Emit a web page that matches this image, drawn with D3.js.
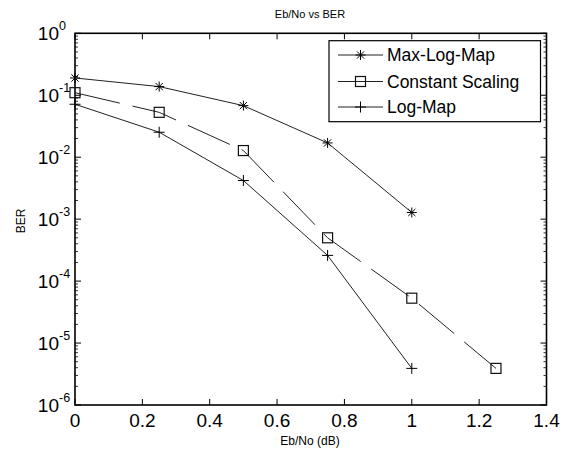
<!DOCTYPE html>
<html>
<head>
<meta charset="utf-8">
<script src="https://cdn.jsdelivr.net/npm/d3@7/dist/d3.min.js"></script>
<style>
  body { margin: 0; background: #fff; }
  svg { display: block; font-family: Arial, "Liberation Sans", sans-serif; }
</style>
</head>
<body>
<svg id="chart" width="563" height="452"></svg>
<script>
const xMaxLog = [0, 0.25, 0.5, 0.75, 1];
const yMaxLog = [0.19, 0.138, 0.068, 0.017, 0.00128];
const xConst = [0, 0.25, 0.5, 0.75, 1, 1.25];
const yConst = [0.11, 0.053, 0.0128, 5e-4, 5.3e-5, 3.9e-6];
const xLogMap = [0, 0.25, 0.5, 0.75, 1];
const yLogMap = [0.0716, 0.0253, 0.0042, 2.6e-4, 3.9e-6];
const xTicks = [0, 0.2, 0.4, 0.6, 0.8, 1, 1.2, 1.4];
const xTickLabels = ["0", "0.2", "0.4", "0.6", "0.8", "1", "1.2", "1.4"];
const yExponents = [0, -1, -2, -3, -4, -5, -6];
const seriesNames = ["Max-Log-Map", "Constant Scaling", "Log-Map"];
const titleText = "Eb/No vs BER";
const xLabelText = "Eb/No (dB)";
const yLabelText = "BER";

const svg = d3.select("#chart");
const L = 75, R = 546.5, T = 33.3, B = 405;
const x = d3.scaleLinear().domain([0, 1.4]).range([L, R]);
const y = d3.scaleLog().domain([1e-6, 1]).range([B, T]);

// minor ticks
const minor = [];
for (let e = -6; e < 0; e++) for (let m = 2; m <= 9; m++) minor.push(m * Math.pow(10, e));
const g = svg.append("g");
minor.forEach(v => {
  g.append("line").attr("x1", L).attr("x2", L + 3).attr("y1", y(v)).attr("y2", y(v)).attr("stroke", "#000").attr("stroke-width", 0.8);
  g.append("line").attr("x1", R).attr("x2", R - 3).attr("y1", y(v)).attr("y2", y(v)).attr("stroke", "#000").attr("stroke-width", 0.8);
});
yExponents.forEach(e => {
  const v = Math.pow(10, e);
  g.append("line").attr("x1", L).attr("x2", L + 6).attr("y1", y(v)).attr("y2", y(v)).attr("stroke", "#000");
  g.append("line").attr("x1", R).attr("x2", R - 6).attr("y1", y(v)).attr("y2", y(v)).attr("stroke", "#000");
  g.append("text").attr("x", 59).attr("y", y(v) + 7).attr("text-anchor", "end").attr("font-size", 19).attr("fill", "#000").text("10");
  g.append("text").attr("x", 59).attr("y", y(v) - 3).attr("font-size", 12.5).attr("fill", "#000").text(String(e));
});
xTicks.forEach((v, i) => {
  g.append("line").attr("x1", x(v)).attr("x2", x(v)).attr("y1", B).attr("y2", B - 6).attr("stroke", "#000");
  g.append("line").attr("x1", x(v)).attr("x2", x(v)).attr("y1", T).attr("y2", T + 6).attr("stroke", "#000");
  g.append("text").attr("x", x(v)).attr("y", 427).attr("text-anchor", "middle").attr("font-size", 19).attr("fill", "#000").text(xTickLabels[i]);
});

// frame
svg.append("rect").attr("x", L).attr("y", T).attr("width", R - L).attr("height", B - T)
  .attr("fill", "none").attr("stroke", "#000").attr("stroke-width", 1.6);

// labels
svg.append("text").attr("x", 310).attr("y", 18).attr("text-anchor", "middle").attr("font-size", 11).attr("fill", "#000").text(titleText);
svg.append("text").attr("x", 310).attr("y", 445).attr("text-anchor", "middle").attr("font-size", 12).attr("fill", "#000").text(xLabelText);
svg.append("text").attr("transform", "translate(25,221) rotate(-90)").attr("text-anchor", "middle").attr("font-size", 12).attr("fill", "#000").text(yLabelText);

// markers
function drawMarker(sel, type, cx, cy) {
  if (type === "star") {
    const s = 5, d = 3.6;
    sel.append("path").attr("d", `M${cx - s},${cy}H${cx + s}M${cx},${cy - s}V${cy + s}M${cx - d},${cy - d}L${cx + d},${cy + d}M${cx - d},${cy + d}L${cx + d},${cy - d}`)
      .attr("stroke", "#000").attr("stroke-width", 1).attr("fill", "none");
  } else if (type === "square") {
    sel.append("rect").attr("x", cx - 5).attr("y", cy - 5).attr("width", 10).attr("height", 10)
      .attr("fill", "none").attr("stroke", "#111").attr("stroke-width", 1.2);
  } else {
    const s = 5.5;
    sel.append("path").attr("d", `M${cx - s},${cy}H${cx + s}M${cx},${cy - s}V${cy + s}`)
      .attr("stroke", "#000").attr("stroke-width", 1).attr("fill", "none");
  }
}

const series = [
  { xs: xMaxLog, ys: yMaxLog, marker: "star", dash: null },
  { xs: xConst, ys: yConst, marker: "square", dash: "46,13" },
  { xs: xLogMap, ys: yLogMap, marker: "plus", dash: null }
];
const line = d3.line().x(d => x(d[0])).y(d => y(d[1]));
series.forEach(s => {
  const pts = s.xs.map((v, i) => [v, s.ys[i]]);
  const p = svg.append("path").attr("d", line(pts)).attr("fill", "none").attr("stroke", "#222").attr("stroke-width", 1);
  if (s.dash) p.attr("stroke-dasharray", s.dash);
  pts.forEach(d => drawMarker(svg, s.marker, x(d[0]), y(d[1])));
});

// legend
const lg = svg.append("g");
lg.append("rect").attr("x", 329).attr("y", 40.7).attr("width", 211.5).attr("height", 81).attr("fill", "#fff").attr("stroke", "#000").attr("stroke-width", 1.2);
const rowsY = [55, 81.5, 107];
series.forEach((s, i) => {
  lg.append("line").attr("x1", 338).attr("x2", 383).attr("y1", rowsY[i]).attr("y2", rowsY[i]).attr("stroke", "#222").attr("stroke-width", 1);
  drawMarker(lg, s.marker, 360.5, rowsY[i]);
  lg.append("text").attr("x", 387).attr("y", rowsY[i] + 6).attr("font-size", 17.5).attr("fill", "#000").text(seriesNames[i]);
});
</script>
</body>
</html>
